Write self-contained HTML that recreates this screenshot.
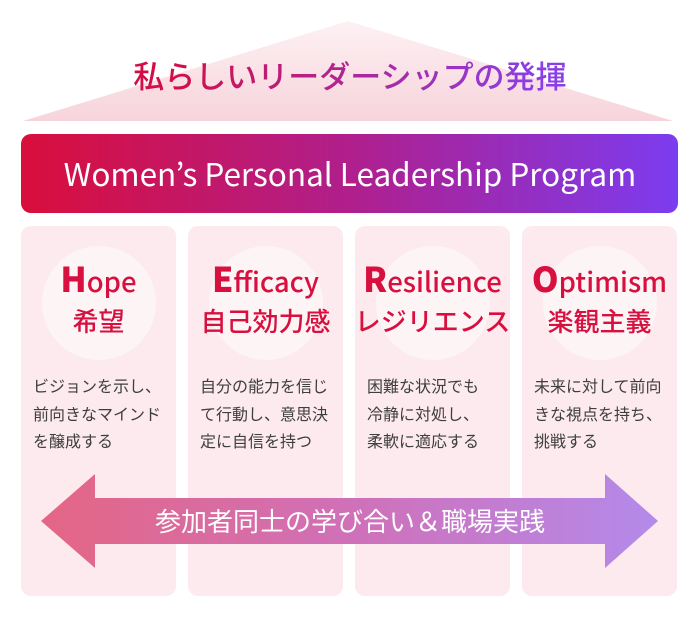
<!DOCTYPE html>
<html><head><meta charset="utf-8"><style>
body{margin:0;width:700px;height:620px;background:#fff;overflow:hidden;position:relative;font-family:"Liberation Sans","Noto Sans CJK JP",sans-serif}
.a{position:absolute;white-space:nowrap}
.t{left:0;width:700px;text-align:center}
.col{position:absolute;top:226px;width:155px;height:370px;background:#fceaee;border-radius:10px}
.cir{position:absolute;left:21px;top:20px;width:114px;height:114px;border-radius:50%;background:#fdf4f6}
.en{position:absolute;left:-10px;width:175px;top:35px;text-align:center;font-family:"Noto Sans CJK JP",sans-serif;font-size:27.5px;font-weight:500;color:#d8103f;line-height:34px}
.en b{font-size:34px;font-weight:900}
.jp{position:absolute;left:-10px;width:175px;top:78px;text-align:center;font-family:"Noto Sans CJK JP",sans-serif;font-size:26px;color:#d8103f;font-weight:500;line-height:34px}
.tx{position:absolute;left:12px;top:146px;font-family:"Noto Sans CJK JP",sans-serif;font-size:16px;color:#3e3e3e;line-height:27.5px;white-space:nowrap}
</style></head><body>
<svg class="a" style="left:0;top:0" width="700" height="620">
<defs>
<linearGradient id="tr" x1="0" y1="0" x2="0" y2="1"><stop offset="0" stop-color="#fdf1f3"/><stop offset="1" stop-color="#f7d4dc"/></linearGradient>
<linearGradient id="bn" x1="0" y1="0" x2="1" y2="0"><stop offset="0" stop-color="#d90e3c"/><stop offset="0.5" stop-color="#b01f8c"/><stop offset="1" stop-color="#7c3cf0"/></linearGradient>
<linearGradient id="ar" x1="0" y1="0" x2="1" y2="0"><stop offset="0" stop-color="#e46684"/><stop offset="0.5" stop-color="#d070b8"/><stop offset="1" stop-color="#b38aeb"/></linearGradient>
</defs>
<polygon points="23,121 348,21 673,121" fill="url(#tr)"/>
<rect x="21" y="134" width="657" height="79" rx="10" fill="url(#bn)"/>
</svg>
<div class="a t" style="top:53px;font-family:'Noto Sans CJK JP',sans-serif;font-size:31px;font-weight:500;line-height:44px;background:linear-gradient(90deg,#d30e46 10%,#8b3ee6 90%);-webkit-background-clip:text;background-clip:text;color:transparent;left:120px;width:460px">私らしいリーダーシップの発揮</div>
<div class="a t" style="top:151px;font-family:'Noto Sans CJK JP',sans-serif;font-size:31.5px;color:#fff;line-height:44px">Women’s Personal Leadership Program</div>

<div class="col" style="left:21px"><div class="cir"></div><div class="en"><b>H</b>ope</div><div class="jp">希望</div><div class="tx">ビジョンを示し、<br>前向きなマインド<br>を醸成する</div></div>
<div class="col" style="left:188px"><div class="cir"></div><div class="en"><b>E</b>fficacy</div><div class="jp">自己効力感</div><div class="tx">自分の能力を信じ<br>て行動し、意思決<br>定に自信を持つ</div></div>
<div class="col" style="left:355px"><div class="cir"></div><div class="en"><b>R</b>esilience</div><div class="jp">レジリエンス</div><div class="tx">困難な状況でも<br>冷静に対処し、<br>柔軟に適応する</div></div>
<div class="col" style="left:522px"><div class="cir"></div><div class="en"><b>O</b>ptimism</div><div class="jp">楽観主義</div><div class="tx">未来に対して前向<br>きな視点を持ち、<br>挑戦する</div></div>

<svg class="a" style="left:0;top:0" width="700" height="620">
<polygon points="41,521 95,474 95,498 605,498 605,474 658,521 605,568 605,544 95,544 95,568" fill="url(#ar)"/>
</svg>
<div class="a t" style="top:502px;font-family:'Noto Sans CJK JP',sans-serif;font-size:26px;color:#fff;line-height:38px">参加者同士の学び合い＆職場実践</div>
</body></html>
